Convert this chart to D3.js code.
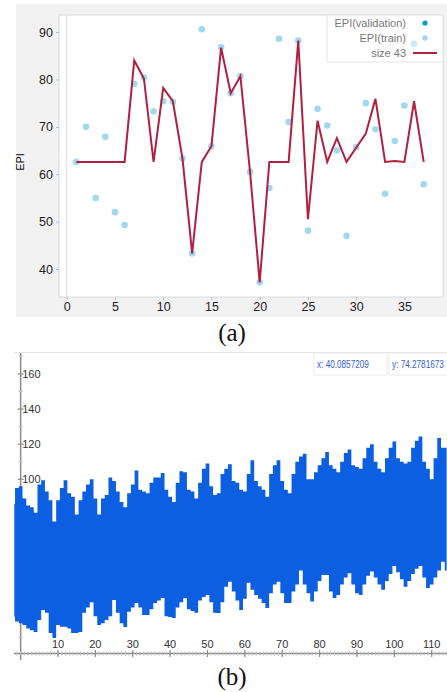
<!DOCTYPE html>
<head>
<style>
body { margin: 0; background: #fff; }
text { font-family: Arial, "Liberation Sans", sans-serif; }
.cap { font-family: "Liberation Serif", "Times New Roman", serif; font-size: 25px; fill: #111; }
</style>
<meta charset="utf-8">
<title></title>
</head>
<body>
<script src="https://d3js.org/d3.v7.min.js"></script>
<script>

// ---- panel (a) data ----
var epoch = d3.range(1, 38);
var epiTrain = [62.6, 70.0, 55.0, 67.9, 52.0, 49.3, 79.1, 80.4, 73.3, 75.4,
                75.3, 63.3, 43.3, 90.6, 65.9, 86.8, 77.1, 80.7, 60.5, 37.2,
                57.1, 88.6, 71.0, 88.2, 48.1, 73.8, 70.3, 65.0, 47.0, 65.7,
                75.0, 69.5, 55.9, 67.0, 74.5, 87.5, 57.9];
var epiValidation = [];
var size43 = [62.6, 62.6, 62.6, 62.6, 62.6, 62.6, 84.0, 80.2, 62.6, 78.2,
              75.4, 63.3, 43.3, 62.6, 65.9, 86.7, 77.1, 80.7, 60.5, 37.2,
              62.6, 62.6, 62.6, 88.2, 50.5, 71.3, 62.6, 67.6, 62.6, 65.6,
              68.6, 75.9, 62.6, 62.8, 62.6, 75.4, 62.6];
var xTicksA = [0, 5, 10, 15, 20, 25, 30, 35];
var yTicksA = [40, 50, 60, 70, 80, 90];
var legendA = ["EPI(validation)", "EPI(train)", "size 43"];

// ---- panel (b) data: upper / lower edge of the dense signal ----
var sigX = d3.range(-2, 115);
var sigUpper = [86, 95, 96, 89, 85, 84, 81, 97, 99.5, 93,
                88, 76, 88, 95, 99.5, 92, 90, 80, 88, 93,
                97, 100, 89, 80, 89, 91, 101, 99, 93, 87,
                84, 92, 97, 105, 94, 93, 92, 98, 101, 101,
                103.6, 94, 90, 87, 98, 104.6, 104, 94, 93, 89,
                98, 106, 109, 96, 91, 92, 103, 106, 108.6, 99,
                98, 94, 93, 103, 110.8, 99, 96, 94, 90, 103,
                108, 110.8, 99, 94, 92, 103, 110, 113, 114.6, 100,
                100, 104, 108, 112, 115.5, 108, 106, 104, 110, 115,
                117, 108, 107, 106, 112, 118, 120, 110, 106, 104,
                112, 118, 121.5, 112, 110, 109, 110, 118, 122, 124.4,
                110, 106, 100, 112, 123.5, 118, 118];
var sigLower = [21.7, 19, 18, 17, 15, 14, 13, 19.8, 25.5, 24,
                12.4, 9.6, 17, 16, 16, 15, 12.4, 12.4, 13, 24,
                27, 30, 22, 17, 18, 19.8, 22, 31.2, 24, 18,
                15.8, 24.5, 27, 29.5, 27, 22.7, 22.7, 26, 29.5, 31,
                32.3, 22, 21.5, 21, 27, 30, 32.2, 26, 25, 24,
                31, 33, 34, 30, 24, 23.8, 30, 38.8, 41.6, 36,
                31, 25.5, 32, 41, 37, 34, 32, 29.5, 26.6, 35,
                40, 41.6, 35, 29.5, 29.5, 36, 40, 48, 40, 35,
                30.3, 36, 42, 45.5, 45.5, 36, 32.3, 34, 40, 44,
                46.4, 40, 35, 34, 40, 45, 47.4, 44, 40, 37,
                42, 46, 50.6, 47, 43, 38.8, 42, 46, 49, 50.6,
                44, 38, 40, 44, 48, 53, 48];
var xTicksB = [10, 20, 30, 40, 50, 60, 70, 80, 90, 100, 110];
var yTicksB = [20, 40, 60, 80, 100, 120, 140, 160];
var cursorText = ["x: 40.0857209", "y: 74.2781673"];

var width = 447, height = 692;
var svg = d3.select("body").append("svg")
    .attr("width", width)
    .attr("height", height);

// ================= panel (a) =================
var xA = d3.scaleLinear().domain([-0.8, 39]).range([59, 443]);
var yA = d3.scaleLinear().domain([34.1, 93.6]).range([297, 15]);

var ga = svg.append("g");
ga.append("rect").attr("x", 16).attr("y", 4).attr("width", 431).attr("height", 313)
    .attr("fill", "#f2f2f2");
ga.append("rect").attr("x", 59).attr("y", 15).attr("width", 384).attr("height", 282)
    .attr("fill", "#fff").attr("stroke", "#dadada");

// zero line
ga.append("line")
    .attr("x1", xA(0)).attr("x2", xA(0)).attr("y1", 15).attr("y2", 297)
    .attr("stroke", "#dedede");

var yAxisA = ga.append("g").attr("transform", "translate(59,0)")
    .call(d3.axisLeft(yA).tickValues(yTicksA).tickSize(3).tickPadding(3));
var xAxisA = ga.append("g").attr("transform", "translate(0,297)")
    .call(d3.axisBottom(xA).tickValues(xTicksA).tickSize(3).tickPadding(2));
[yAxisA, xAxisA].forEach(function(a) {
    a.select(".domain").remove();
    a.selectAll(".tick line").attr("stroke", "#bbb");
    a.selectAll(".tick text").attr("fill", "#222").style("font-size", "12.5px");
});

ga.append("text")
    .attr("transform", "translate(24,162) rotate(-90)")
    .attr("text-anchor", "middle")
    .style("font-size", "11px")
    .attr("fill", "#111")
    .text("EPI");

ga.append("g").selectAll("circle")
    .data(epoch.map(function(e, i) { return { x: e, y: epiTrain[i] }; }))
    .enter().append("circle")
    .attr("cx", function(d) { return xA(d.x); })
    .attr("cy", function(d) { return yA(d.y); })
    .attr("r", 3.3)
    .attr("fill", "#a2d8ee");

ga.append("g").selectAll("circle")
    .data(epiValidation)
    .enter().append("circle")
    .attr("cx", function(d) { return xA(d.x); })
    .attr("cy", function(d) { return yA(d.y); })
    .attr("r", 3)
    .attr("fill", "#0b9ac6");

var lineA = d3.line()
    .x(function(d, i) { return xA(epoch[i]); })
    .y(function(d) { return yA(d); });
ga.append("path")
    .datum(size43)
    .attr("d", lineA)
    .attr("fill", "none")
    .attr("stroke", "#b22040")
    .attr("stroke-width", 2)
    .attr("stroke-linejoin", "miter");

// legend
var lg = ga.append("g");
lg.append("rect").attr("x", 327).attr("y", 15).attr("width", 116).attr("height", 47)
    .attr("fill", "#fff").attr("fill-opacity", 0.45).attr("stroke", "#e6e6e6");
legendA.forEach(function(name, i) {
    var cy = 23 + i * 15;
    lg.append("text")
        .attr("x", 406).attr("y", cy).attr("dy", "0.35em")
        .attr("text-anchor", "end")
        .style("font-size", "11px")
        .attr("fill", "#777")
        .text(name);
    if (i == 0) {
        lg.append("circle").attr("cx", 425).attr("cy", cy).attr("r", 2.6).attr("fill", "#0b9ac6");
    } else if (i == 1) {
        lg.append("circle").attr("cx", 425).attr("cy", cy).attr("r", 2.8).attr("fill", "#a2d8ee");
    } else {
        lg.append("line").attr("x1", 413).attr("x2", 437).attr("y1", cy).attr("y2", cy)
            .attr("stroke", "#b22040").attr("stroke-width", 2);
    }
});

svg.append("text").attr("class", "cap").attr("x", 232).attr("y", 341)
    .attr("text-anchor", "middle").text("(a)");

// ================= panel (b) =================
var xB = d3.scaleLinear().domain([-1.7, 114.1]).range([14.3, 447]);
var yB = d3.scaleLinear().domain([0, 172]).range([654.8, 352.9]);

var gb = svg.append("g");
gb.append("line").attr("x1", 14).attr("x2", 447).attr("y1", 352.5).attr("y2", 352.5)
    .attr("stroke", "#e4e4e4");

// y axis
gb.append("line").attr("x1", xB(0)).attr("x2", xB(0)).attr("y1", 353).attr("y2", 660)
    .attr("stroke", "#8c8c8c").attr("stroke-width", 1.5);
gb.append("g").selectAll("line")
    .data(d3.range(10, 180, 20))
    .enter().append("line")
    .attr("x1", xB(0) - 2).attr("x2", xB(0) + 2)
    .attr("y1", function(d) { return yB(d); }).attr("y2", function(d) { return yB(d); })
    .attr("stroke", "#c4c4c4");
gb.append("g").selectAll("line")
    .data(yTicksB)
    .enter().append("line")
    .attr("x1", xB(0) - 3).attr("x2", xB(0) + 3)
    .attr("y1", function(d) { return yB(d); }).attr("y2", function(d) { return yB(d); })
    .attr("stroke", "#8c8c8c").attr("stroke-width", 1.2);
gb.append("g").selectAll("text")
    .data(yTicksB)
    .enter().append("text")
    .attr("x", xB(0) + 1.5)
    .attr("y", function(d) { return yB(d); })
    .attr("dy", "0.35em")
    .style("font-size", "11px")
    .attr("fill", "#333")
    .text(function(d) { return d; });

// signal
gb.append("clipPath").attr("id", "clipb")
    .append("rect").attr("x", 14.3).attr("y", 353).attr("width", 433).attr("height", 305);
var areaB = d3.area()
    .x(function(d, i) { return xB(sigX[i]); })
    .y0(function(d, i) { return yB(sigLower[i]); })
    .y1(function(d) { return yB(d); })
    .curve(d3.curveStep);
gb.append("path")
    .datum(sigUpper)
    .attr("clip-path", "url(#clipb)")
    .attr("d", areaB)
    .attr("fill", "#0b5fe0");

// x axis
gb.append("line").attr("x1", 14).attr("x2", 447).attr("y1", 653.5).attr("y2", 653.5)
    .attr("stroke", "#8c8c8c").attr("stroke-width", 1.5);
gb.append("g").selectAll("line")
    .data(d3.range(-1, 115))
    .enter().append("line")
    .attr("x1", function(d) { return xB(d); }).attr("x2", function(d) { return xB(d); })
    .attr("y1", 651.5).attr("y2", 655.5)
    .attr("stroke", "#bdbdbd");
gb.append("g").selectAll("line")
    .data(xTicksB)
    .enter().append("line")
    .attr("x1", function(d) { return xB(d); }).attr("x2", function(d) { return xB(d); })
    .attr("y1", 650).attr("y2", 657)
    .attr("stroke", "#8c8c8c").attr("stroke-width", 1.2);
gb.append("g").selectAll("text")
    .data(xTicksB)
    .enter().append("text")
    .attr("x", function(d) { return xB(d); })
    .attr("y", 644)
    .attr("dy", "0.35em")
    .attr("text-anchor", "middle")
    .style("font-size", "11px")
    .attr("fill", "#333")
    .text(function(d) { return d; });

// cursor readout boxes
var boxX = [314, 389], boxW = [73, 62];
cursorText.forEach(function(t, i) {
    gb.append("rect").attr("x", boxX[i]).attr("y", 353).attr("width", boxW[i]).attr("height", 22)
        .attr("fill", "#fff").attr("stroke", "#ececec");
    gb.append("text")
        .attr("transform", "translate(" + (boxX[i] + 3) + ",364) scale(0.78,1)")
        .attr("dy", "0.35em")
        .style("font-size", "10.5px")
        .attr("fill", "#3560d6")
        .text(t);
});

svg.append("text").attr("class", "cap").attr("x", 232).attr("y", 685)
    .attr("text-anchor", "middle").text("(b)");

</script>
</body>
</html>
